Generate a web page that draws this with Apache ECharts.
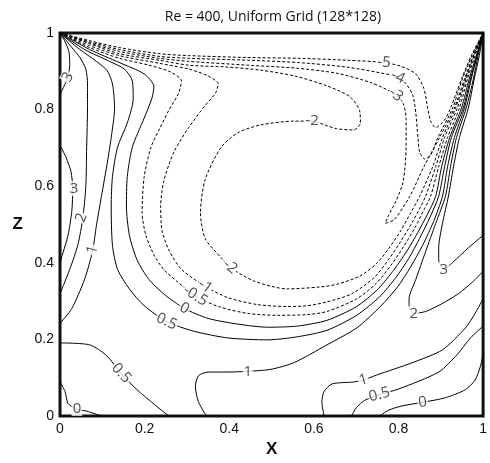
<!DOCTYPE html>
<html><head><meta charset="utf-8">
<script src="https://cdn.jsdelivr.net/npm/echarts@6/dist/echarts.min.js"></script>
<style>html,body{margin:0;padding:0;background:#fff}#c{width:490px;height:463px}</style>
</head><body><div id="c"></div>
<script>
// ---- contour lines (x, z) ----
const cM5 = [[0,1],[0.070,0.980],[0.140,0.962],[0.234,0.946],[0.304,0.941],[0.444,0.936],[0.561,0.934],[0.678,0.929],[0.766,0.923],[0.806,0.913],[0.841,0.893],[0.860,0.855],[0.869,0.804],[0.876,0.770],[0.888,0.753],[0.909,0.773],[0.923,0.804],[0.949,0.880],[0.972,0.941],[1,1]];
const cM4 = [[0,1],[0.070,0.977],[0.140,0.957],[0.234,0.939],[0.304,0.934],[0.444,0.929],[0.561,0.923],[0.678,0.911],[0.771,0.893],[0.799,0.885],[0.818,0.867],[0.834,0.837],[0.841,0.791],[0.846,0.727],[0.850,0.689],[0.862,0.671],[0.876,0.681],[0.893,0.727],[0.928,0.804],[0.951,0.880],[0.974,0.941],[1,1]];
const cM3 = [[0,1],[0.070,0.974],[0.140,0.952],[0.234,0.934],[0.304,0.926],[0.444,0.916],[0.561,0.908],[0.654,0.895],[0.736,0.870],[0.794,0.839],[0.811,0.816],[0.818,0.778],[0.818,0.702],[0.811,0.612],[0.794,0.561],[0.776,0.523],[0.769,0.503],[0.790,0.513],[0.827,0.574],[0.860,0.651],[0.897,0.727],[0.932,0.804],[0.956,0.880],[0.977,0.941],[1,1]];
const cM2 = [[0,1],[0.070,0.972],[0.140,0.946],[0.234,0.929],[0.304,0.916],[0.397,0.911],[0.474,0.903],[0.554,0.888],[0.631,0.862],[0.685,0.834],[0.708,0.798],[0.710,0.765],[0.694,0.747],[0.654,0.750],[0.631,0.758],[0.596,0.770],[0.554,0.770],[0.474,0.760],[0.421,0.740],[0.381,0.702],[0.343,0.617],[0.332,0.531],[0.343,0.464],[0.381,0.413],[0.402,0.388],[0.460,0.352],[0.537,0.332],[0.614,0.337],[0.654,0.344],[0.708,0.365],[0.748,0.398],[0.778,0.439],[0.806,0.485],[0.829,0.531],[0.850,0.574],[0.881,0.651],[0.904,0.727],[0.935,0.804],[0.958,0.880],[0.977,0.941],[1,1]];
const cM1 = [[0,1],[0.070,0.967],[0.140,0.941],[0.234,0.921],[0.304,0.906],[0.350,0.888],[0.374,0.867],[0.367,0.842],[0.343,0.811],[0.304,0.753],[0.269,0.689],[0.245,0.612],[0.238,0.548],[0.241,0.485],[0.257,0.434],[0.287,0.383],[0.343,0.339],[0.397,0.309],[0.467,0.291],[0.537,0.286],[0.584,0.288],[0.631,0.298],[0.689,0.319],[0.743,0.362],[0.778,0.411],[0.806,0.457],[0.832,0.505],[0.853,0.548],[0.864,0.574],[0.888,0.651],[0.909,0.727],[0.939,0.804],[0.960,0.880],[0.979,0.941],[1,1]];
const cM05 = [[0,1],[0.070,0.962],[0.140,0.934],[0.210,0.916],[0.262,0.898],[0.287,0.875],[0.280,0.842],[0.257,0.798],[0.234,0.747],[0.215,0.702],[0.199,0.625],[0.194,0.531],[0.203,0.472],[0.222,0.421],[0.245,0.383],[0.276,0.352],[0.320,0.314],[0.374,0.286],[0.444,0.268],[0.514,0.263],[0.584,0.265],[0.631,0.273],[0.701,0.306],[0.748,0.347],[0.785,0.398],[0.813,0.444],[0.839,0.492],[0.860,0.538],[0.876,0.574],[0.895,0.651],[0.916,0.727],[0.944,0.804],[0.963,0.880],[0.981,0.941],[1,1]];
const c0 = [[0,1],[0.070,0.957],[0.140,0.923],[0.199,0.893],[0.222,0.860],[0.217,0.829],[0.199,0.778],[0.171,0.702],[0.159,0.625],[0.157,0.548],[0.164,0.472],[0.182,0.408],[0.210,0.357],[0.245,0.319],[0.294,0.281],[0.350,0.255],[0.421,0.240],[0.491,0.232],[0.561,0.235],[0.631,0.250],[0.701,0.286],[0.752,0.332],[0.790,0.383],[0.820,0.431],[0.846,0.480],[0.869,0.528],[0.888,0.574],[0.902,0.651],[0.921,0.727],[0.949,0.804],[0.967,0.880],[0.984,0.941],[1,1]];
const cP05 = [[0,1],[0.058,0.957],[0.117,0.926],[0.152,0.906],[0.171,0.875],[0.173,0.829],[0.159,0.765],[0.136,0.702],[0.124,0.625],[0.121,0.548],[0.124,0.446],[0.136,0.383],[0.164,0.332],[0.199,0.288],[0.252,0.247],[0.315,0.222],[0.397,0.204],[0.491,0.199],[0.561,0.207],[0.631,0.224],[0.701,0.263],[0.755,0.311],[0.794,0.362],[0.825,0.413],[0.850,0.464],[0.874,0.518],[0.895,0.574],[0.909,0.651],[0.925,0.727],[0.953,0.804],[0.970,0.880],[0.986,0.941],[1,1]];
const cP1Mid = [[0.346,0],[0.327,0.038],[0.320,0.077],[0.327,0.105],[0.350,0.115],[0.397,0.115],[0.444,0.117],[0.498,0.122],[0.554,0.140],[0.631,0.186],[0.701,0.230],[0.759,0.288],[0.799,0.339],[0.829,0.390],[0.857,0.446],[0.883,0.508],[0.904,0.574],[0.916,0.651],[0.932,0.727],[0.956,0.804],[0.972,0.880],[0.986,0.941],[1,1]];
const cP2Right = [[1,0.378],[0.974,0.349],[0.941,0.319],[0.902,0.293],[0.864,0.273],[0.836,0.268],[0.825,0.288],[0.825,0.306],[0.841,0.357],[0.864,0.429],[0.888,0.503],[0.911,0.574],[0.923,0.651],[0.937,0.727],[0.960,0.804],[0.977,0.880],[0.988,0.941],[1,1]];
const cP3Right = [[1,0.472],[0.965,0.439],[0.928,0.401],[0.907,0.383],[0.895,0.408],[0.895,0.439],[0.904,0.503],[0.918,0.574],[0.930,0.651],[0.944,0.727],[0.965,0.804],[0.979,0.880],[0.991,0.941],[1,1]];
const cP3Top = [[0,1],[0.012,0.977],[0.021,0.952],[0.023,0.918],[0.019,0.885],[0.009,0.860],[0,0.839]];
const cP3Left = [[0,0.707],[0.014,0.676],[0.026,0.638],[0.030,0.594],[0.028,0.536],[0.019,0.472],[0.007,0.426],[0,0.401]];
const cP2Left = [[0,1],[0.028,0.962],[0.047,0.936],[0.061,0.906],[0.065,0.867],[0.065,0.804],[0.063,0.702],[0.061,0.599],[0.054,0.518],[0.042,0.446],[0.023,0.383],[0.009,0.344],[0,0.319]];
const cP1Left = [[0,1],[0.047,0.957],[0.086,0.926],[0.112,0.901],[0.124,0.867],[0.129,0.804],[0.121,0.727],[0.112,0.663],[0.098,0.574],[0.086,0.497],[0.077,0.431],[0.058,0.357],[0.028,0.281],[0,0.242]];
const cP05BL = [[0,0.191],[0.070,0.186],[0.110,0.158],[0.145,0.110],[0.187,0.064],[0.257,0]];
const c0BL = [[0,0.089],[0.012,0.064],[0.019,0.033],[0.040,0.018],[0.063,0.013],[0.098,0]];
const cP1BR = [[0.624,0],[0.619,0.038],[0.624,0.064],[0.643,0.084],[0.694,0.089],[0.717,0.094],[0.748,0.107],[0.834,0.140],[0.904,0.173],[0.958,0.230],[0.981,0.268],[1,0.306]];
const cP05BR = [[0.689,0],[0.701,0.023],[0.720,0.041],[0.755,0.056],[0.801,0.071],[0.895,0.115],[0.939,0.161],[0.970,0.204],[1,0.235]];
const c0BR = [[0.755,0],[0.776,0.015],[0.806,0.026],[0.857,0.036],[0.911,0.048],[0.958,0.069],[0.981,0.094],[0.993,0.128],[1,0.161]];

const dashedContours = [cM5, cM4, cM3, cM2, cM1, cM05];
const solidContours = [c0, cP05, cP1Mid, cP2Right, cP3Right, cP3Top, cP3Left, cP2Left, cP1Left, cP05BL, c0BL, cP1BR, cP05BR, c0BR];

// contour labels: x, z, text, rotation
const contourLabels = [
  [0.766,0.923,'-5',-5],[0.799,0.885,'-4',-25],[0.794,0.839,'-3',-40],
  [0.596,0.770,'-2',0],[0.402,0.390,'-2',-40],[0.343,0.339,'-1',-35],
  [0.320,0.314,'-0.5',-32],[0.294,0.281,'0',-30],[0.252,0.247,'0.5',-25],
  [0.019,0.885,'3',60],[0.033,0.594,'3',0],[0.051,0.518,'2',70],[0.077,0.434,'1',75],
  [0.444,0.117,'1',0],[0.145,0.112,'0.5',-48],[0.040,0.020,'0',0],
  [0.907,0.383,'3',0],[0.836,0.268,'2',0],[0.717,0.094,'1',15],[0.755,0.056,'0.5',15],[0.857,0.036,'0',8]
];

const titleText = 'Re = 400, Uniform Grid (128*128)';

const series = [];
dashedContours.forEach(d => series.push({type:'line', data:d, smooth:0.25, symbol:'none', z:2,
  lineStyle:{color:'#000', width:1, type:[3,2]}}));
solidContours.forEach(d => series.push({type:'line', data:d, smooth:0.25, symbol:'none', z:2,
  lineStyle:{color:'#000', width:1}}));
series.push({type:'scatter', z:5, symbolSize:1, itemStyle:{color:'rgba(0,0,0,0)'},
  data: contourLabels.map(l => ({value:[l[0], l[1]], label:{formatter:l[2], rotate:l[3]}})),
  label:{show:true, position:'inside', color:'#222', fontSize:15, fontFamily:'Open Sans',
    backgroundColor:'#fff', padding:[0,1]}});

const chart = echarts.init(document.getElementById('c'), null, {renderer:'canvas'});
chart.setOption({
  animation:false,
  backgroundColor:'#fff',
  grid:{left:60, right:2, top:33, bottom:38, show:true, borderColor:'#111', borderWidth:3, backgroundColor:'transparent'},
  xAxis:{type:'value', min:0, max:1, interval:0.2, axisLine:{show:false}, axisTick:{show:false}, splitLine:{show:false},
    axisLabel:{color:'#111', fontSize:14, fontFamily:'Liberation Sans', margin:6},
    name:'X', nameLocation:'middle', nameGap:24, nameTextStyle:{fontSize:17, fontWeight:'bold', color:'#111', fontFamily:'Liberation Sans'}},
  yAxis:{type:'value', min:0, max:1, interval:0.2, axisLine:{show:false}, axisTick:{show:false}, splitLine:{show:false},
    axisLabel:{color:'#111', fontSize:14, fontFamily:'Liberation Sans', margin:6},
    name:'Z', nameLocation:'middle', nameRotate:0, nameGap:37, nameTextStyle:{fontSize:17, fontWeight:'bold', color:'#111', fontFamily:'Liberation Sans'}},
  graphic:[{type:'text', x:273, y:17, style:{text:titleText, textAlign:'center', textVerticalAlign:'middle', font:'14px "Open Sans"', fill:'#111'}}],
  series: series
});
</script></body></html>
